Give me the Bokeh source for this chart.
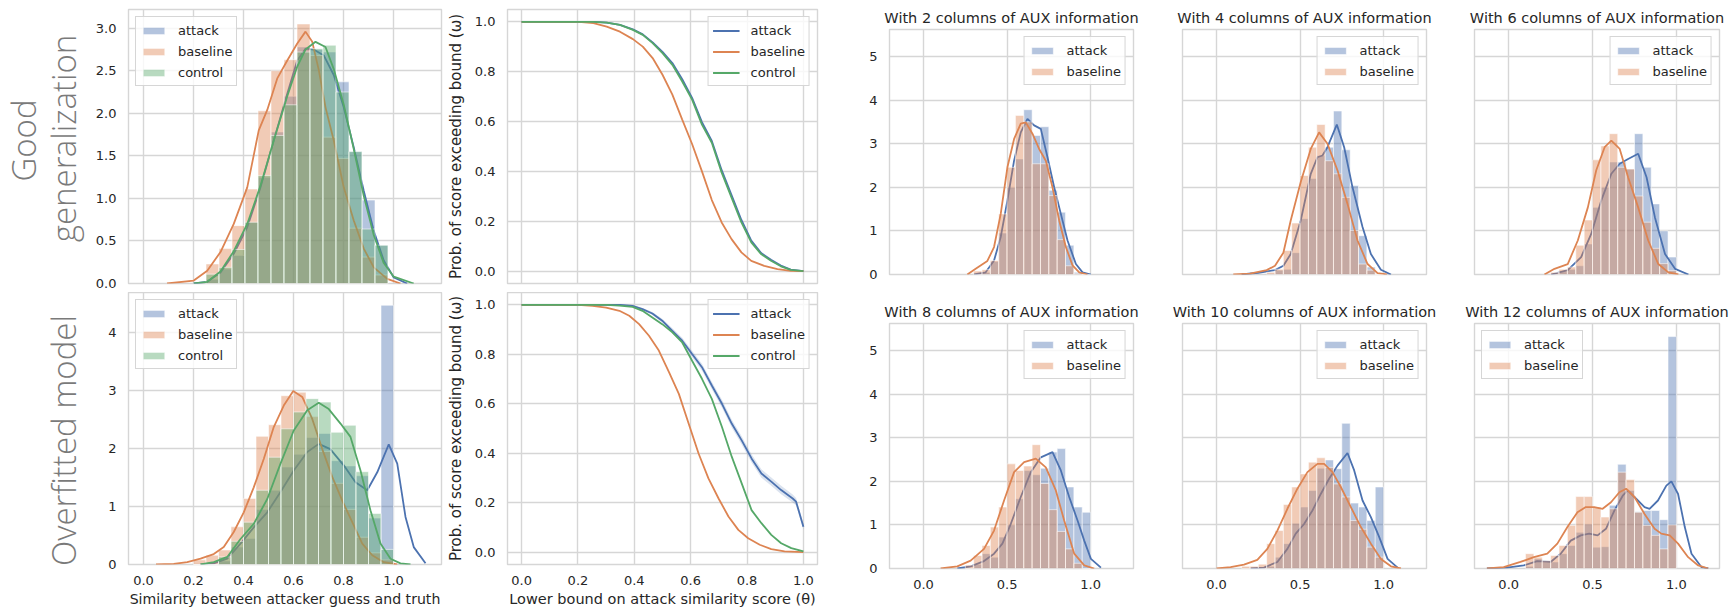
import math
from bokeh.plotting import figure
from bokeh.layouts import row, column
from bokeh.models import FixedTicker, PrintfTickFormatter, Range1d
from bokeh.core.properties import value
from bokeh.embed import file_html
from bokeh.resources import INLINE

# ---------------- data ----------------
SERIES = ["attack", "baseline", "control"]

# Good generalization histogram (left top)
GOOD_EDGES = [0.250, 0.302, 0.354, 0.406, 0.458, 0.510, 0.562, 0.614, 0.666, 0.718, 0.770, 0.822, 0.874, 0.926, 0.978]
GOOD_ATTACK = [0.05, 0.17, 0.33, 0.72, 1.25, 1.78, 2.20, 2.78, 2.75, 2.72, 2.37, 1.55, 0.98, 0.45]
GOOD_BASELINE = [0.23, 0.41, 0.68, 1.11, 2.03, 2.50, 2.63, 3.05, 2.68, 1.72, 1.47, 0.65, 0.31, 0.10]
GOOD_CONTROL = [0.11, 0.19, 0.40, 0.72, 1.27, 1.74, 2.10, 2.72, 2.76, 2.80, 2.25, 1.55, 0.64, 0.45]
GOOD_KX_ATTACK = [0.201, 0.255, 0.308, 0.361, 0.415, 0.468, 0.521, 0.575, 0.615, 0.648, 0.681, 0.721, 0.761, 0.801, 0.841, 0.881, 0.921, 0.961, 1.001, 1.055]
GOOD_KY_ATTACK = [0.0, 0.02, 0.13, 0.35, 0.66, 1.13, 1.68, 2.23, 2.62, 2.76, 2.75, 2.68, 2.45, 2.07, 1.60, 1.09, 0.62, 0.27, 0.07, 0.0]
GOOD_KX_BASELINE = [0.094, 0.201, 0.255, 0.308, 0.361, 0.415, 0.461, 0.495, 0.535, 0.575, 0.615, 0.648, 0.675, 0.701, 0.728, 0.761, 0.801, 0.841, 0.881, 0.921, 0.975, 1.028]
GOOD_KY_BASELINE = [0.0, 0.035, 0.15, 0.37, 0.70, 1.13, 1.80, 2.04, 2.41, 2.62, 2.82, 2.96, 2.84, 2.51, 2.07, 1.68, 1.13, 0.74, 0.41, 0.19, 0.055, 0.0]
GOOD_KX_CONTROL = [0.201, 0.255, 0.308, 0.361, 0.415, 0.468, 0.521, 0.575, 0.615, 0.648, 0.688, 0.728, 0.761, 0.801, 0.841, 0.881, 0.921, 0.961, 1.001, 1.081]
GOOD_KY_CONTROL = [0.0, 0.02, 0.14, 0.38, 0.70, 1.15, 1.68, 2.20, 2.55, 2.75, 2.84, 2.78, 2.52, 2.10, 1.58, 1.03, 0.57, 0.24, 0.08, 0.0]

# Overfitted model histogram (left bottom)
OVER_EDGES = [0.20, 0.25, 0.30, 0.35, 0.40, 0.45, 0.50, 0.55, 0.60, 0.65, 0.70, 0.75, 0.80, 0.85, 0.90, 0.95, 1.00]
OVER_ATTACK = [0.0, 0.0, 0.06, 0.30, 0.45, 0.95, 1.28, 1.68, 1.90, 2.19, 2.26, 1.79, 1.70, 1.53, 0.80, 4.47]
OVER_BASELINE = [0.08, 0.16, 0.25, 0.65, 1.14, 2.21, 2.41, 2.91, 2.97, 2.55, 1.95, 1.40, 0.95, 0.47, 0.20, 0.08]
OVER_CONTROL = [0.0, 0.0, 0.13, 0.40, 0.73, 1.28, 1.85, 2.34, 2.63, 2.86, 2.80, 2.28, 2.40, 1.60, 0.88, 0.26]
OVER_KX_ATTACK = [0.228, 0.281, 0.335, 0.388, 0.441, 0.495, 0.548, 0.601, 0.655, 0.701, 0.747, 0.801, 0.848, 0.895, 0.935, 0.981, 1.015, 1.048, 1.081, 1.128]
OVER_KY_ATTACK = [0.0, 0.02, 0.10, 0.36, 0.64, 0.90, 1.25, 1.62, 1.94, 2.08, 1.99, 1.71, 1.42, 1.28, 1.59, 2.07, 1.74, 0.82, 0.30, 0.02]
OVER_KX_BASELINE = [0.05, 0.121, 0.175, 0.228, 0.281, 0.321, 0.361, 0.401, 0.441, 0.481, 0.521, 0.561, 0.599, 0.635, 0.675, 0.715, 0.755, 0.795, 0.835, 0.875, 0.915, 0.961, 1.015]
OVER_KY_BASELINE = [0.0, 0.01, 0.04, 0.10, 0.18, 0.30, 0.56, 0.90, 1.33, 1.82, 2.37, 2.74, 2.99, 2.89, 2.51, 1.99, 1.51, 1.10, 0.73, 0.36, 0.16, 0.04, 0.0]
OVER_KX_CONTROL = [0.228, 0.281, 0.335, 0.388, 0.441, 0.495, 0.548, 0.601, 0.655, 0.701, 0.741, 0.788, 0.828, 0.868, 0.908, 0.948, 0.988, 1.028, 1.068]
OVER_KY_CONTROL = [0.0, 0.04, 0.13, 0.44, 0.70, 1.13, 1.74, 2.31, 2.66, 2.79, 2.68, 2.43, 2.20, 1.62, 0.93, 0.36, 0.10, 0.02, 0.0]

# Exceedance curves (middle column)
ECDF_GOOD_X_BASELINE = [0.0, 0.203, 0.255, 0.302, 0.349, 0.395, 0.430, 0.465, 0.500, 0.535, 0.570, 0.605, 0.640, 0.675, 0.710, 0.745, 0.780, 0.815, 0.861, 0.908, 0.955, 1.0]
ECDF_GOOD_Y_BASELINE = [1.0, 1.0, 0.995, 0.981, 0.961, 0.931, 0.901, 0.855, 0.788, 0.708, 0.608, 0.510, 0.400, 0.285, 0.195, 0.128, 0.075, 0.041, 0.021, 0.008, 0.001, 0.0]
ECDF_GOOD_X = [0.0, 0.255, 0.302, 0.349, 0.395, 0.430, 0.465, 0.500, 0.535, 0.570, 0.605, 0.640, 0.675, 0.710, 0.745, 0.780, 0.815, 0.850, 0.885, 0.920, 0.955, 1.0]
ECDF_GOOD_Y_ATTACK = [1.0, 1.0, 0.997, 0.988, 0.970, 0.950, 0.918, 0.880, 0.835, 0.770, 0.695, 0.598, 0.522, 0.405, 0.305, 0.205, 0.122, 0.072, 0.045, 0.022, 0.006, 0.0]
ECDF_GOOD_Y_CONTROL = [1.0, 1.0, 0.997, 0.988, 0.968, 0.948, 0.915, 0.875, 0.828, 0.761, 0.688, 0.588, 0.515, 0.395, 0.295, 0.195, 0.115, 0.068, 0.041, 0.019, 0.005, 0.0]

ECDF_OVER_X_BASELINE = [0.0, 0.2, 0.252, 0.300, 0.347, 0.382, 0.417, 0.452, 0.487, 0.523, 0.558, 0.593, 0.628, 0.663, 0.699, 0.734, 0.769, 0.804, 0.845, 0.886, 0.933, 1.0]
ECDF_OVER_Y_BASELINE = [1.0, 1.0, 0.996, 0.989, 0.976, 0.956, 0.922, 0.875, 0.815, 0.728, 0.640, 0.519, 0.399, 0.298, 0.217, 0.144, 0.090, 0.056, 0.030, 0.012, 0.003, 0.0]
ECDF_OVER_X_CONTROL = [0.0, 0.300, 0.347, 0.394, 0.429, 0.464, 0.499, 0.535, 0.570, 0.605, 0.640, 0.675, 0.711, 0.746, 0.781, 0.816, 0.851, 0.886, 0.921, 0.957, 1.0]
ECDF_OVER_Y_CONTROL = [1.0, 1.0, 0.997, 0.992, 0.976, 0.949, 0.922, 0.889, 0.848, 0.774, 0.701, 0.620, 0.506, 0.385, 0.278, 0.170, 0.117, 0.070, 0.036, 0.016, 0.003]
ECDF_OVER_X_ATTACK = [0.0, 0.350, 0.394, 0.429, 0.464, 0.499, 0.535, 0.570, 0.605, 0.640, 0.675, 0.711, 0.746, 0.781, 0.816, 0.851, 0.886, 0.921, 0.962, 0.974, 1.0]
ECDF_OVER_Y_ATTACK = [1.0, 1.0, 0.996, 0.983, 0.965, 0.936, 0.895, 0.855, 0.801, 0.748, 0.674, 0.600, 0.519, 0.452, 0.379, 0.318, 0.285, 0.251, 0.217, 0.204, 0.103]
ECDF_OVER_BAND_ATTACK = [0.0, 0.0, 0.002, 0.004, 0.006, 0.008, 0.010, 0.012, 0.013, 0.014, 0.015, 0.016, 0.016, 0.017, 0.017, 0.017, 0.017, 0.017, 0.016, 0.015, 0.012]

# AUX small multiples
AUX_COLUMNS = [2, 4, 6, 8, 10, 12]

AUX2_EDGES = [0.30, 0.35, 0.40, 0.45, 0.50, 0.55, 0.60, 0.65, 0.70, 0.75, 0.80, 0.85, 0.90, 0.95, 1.00]
AUX2_ATTACK = [0.0, 0.05, 0.30, 0.95, 2.00, 2.65, 3.78, 3.19, 3.39, 1.93, 1.43, 0.67, 0.05, 0.0]
AUX2_BASELINE = [0.08, 0.11, 0.32, 1.39, 2.46, 3.65, 3.50, 2.54, 2.54, 1.81, 0.80, 0.20, 0.02, 0.0]
AUX2_KX_ATTACK = [0.302, 0.372, 0.422, 0.462, 0.502, 0.542, 0.582, 0.622, 0.662, 0.702, 0.742, 0.782, 0.822, 0.862, 0.912, 0.952, 1.002]
AUX2_KY_ATTACK = [0.0, 0.05, 0.32, 0.86, 1.70, 2.61, 3.26, 3.57, 3.42, 3.34, 2.69, 2.00, 1.39, 0.78, 0.24, 0.05, 0.0]
AUX2_KX_BASELINE = [0.262, 0.312, 0.382, 0.422, 0.462, 0.502, 0.542, 0.582, 0.612, 0.652, 0.692, 0.732, 0.772, 0.812, 0.852, 0.892, 0.932, 0.982]
AUX2_KY_BASELINE = [0.0, 0.13, 0.31, 0.63, 1.39, 2.46, 3.11, 3.46, 3.49, 3.23, 2.88, 2.61, 2.00, 1.24, 0.63, 0.21, 0.05, 0.0]

AUX4_EDGES = [0.30, 0.35, 0.40, 0.45, 0.50, 0.55, 0.60, 0.65, 0.70, 0.75, 0.80, 0.85, 0.90, 0.95, 1.00]
AUX4_ATTACK = [0.02, 0.10, 0.12, 0.50, 1.28, 2.20, 2.73, 2.92, 3.75, 2.86, 2.04, 0.89, 0.17, 0.0]
AUX4_BASELINE = [0.05, 0.12, 0.55, 1.18, 2.27, 2.92, 3.44, 2.61, 2.31, 1.77, 1.01, 0.24, 0.10, 0.0]
AUX4_KX_ATTACK = [0.15, 0.25, 0.35, 0.40, 0.444, 0.504, 0.564, 0.604, 0.634, 0.664, 0.72, 0.764, 0.814, 0.874, 0.924, 0.984, 1.044]
AUX4_KY_ATTACK = [0.0, 0.04, 0.10, 0.20, 0.47, 1.24, 2.31, 2.69, 2.73, 2.92, 3.44, 2.92, 2.00, 1.09, 0.47, 0.11, 0.0]
AUX4_KX_BASELINE = [0.10, 0.20, 0.30, 0.35, 0.40, 0.444, 0.504, 0.564, 0.614, 0.664, 0.724, 0.784, 0.844, 0.904, 0.964, 1.02]
AUX4_KY_BASELINE = [0.0, 0.02, 0.10, 0.20, 0.50, 1.24, 2.12, 2.88, 3.26, 3.00, 2.39, 1.62, 0.78, 0.24, 0.03, 0.0]

AUX6_EDGES = [0.25, 0.30, 0.35, 0.40, 0.45, 0.50, 0.55, 0.60, 0.65, 0.70, 0.75, 0.80, 0.85, 0.90, 0.95, 1.00]
AUX6_ATTACK = [0.02, 0.08, 0.12, 0.20, 0.70, 1.54, 2.00, 2.58, 2.58, 2.42, 3.23, 2.46, 1.62, 1.00, 0.40]
AUX6_BASELINE = [0.05, 0.12, 0.17, 0.67, 1.25, 2.63, 2.95, 3.23, 2.46, 2.42, 1.80, 1.20, 0.60, 0.25, 0.09]
AUX6_KX_ATTACK = [0.253, 0.352, 0.432, 0.492, 0.552, 0.612, 0.662, 0.712, 0.772, 0.822, 0.872, 0.932, 0.992, 1.072]
AUX6_KY_ATTACK = [0.0, 0.10, 0.40, 0.93, 1.70, 2.31, 2.54, 2.65, 2.77, 2.23, 1.31, 0.47, 0.13, 0.0]
AUX6_KX_BASELINE = [0.213, 0.273, 0.352, 0.412, 0.472, 0.522, 0.572, 0.612, 0.662, 0.712, 0.772, 0.832, 0.892, 0.952, 1.012]
AUX6_KY_BASELINE = [0.0, 0.13, 0.24, 0.78, 1.54, 2.39, 2.92, 3.07, 2.88, 2.23, 1.54, 0.78, 0.24, 0.05, 0.0]

AUX8_EDGES = [0.25, 0.30, 0.35, 0.40, 0.45, 0.50, 0.55, 0.60, 0.65, 0.70, 0.75, 0.80, 0.85, 0.90, 0.95, 1.00]
AUX8_ATTACK = [0.0, 0.10, 0.34, 0.26, 0.72, 1.00, 1.60, 2.25, 2.15, 2.30, 2.67, 2.75, 1.87, 1.41, 1.29]
AUX8_BASELINE = [0.08, 0.30, 0.53, 0.95, 1.41, 2.40, 2.25, 2.35, 2.84, 1.95, 1.35, 0.85, 0.45, 0.12, 0.0]
AUX8_KX_ATTACK = [0.202, 0.282, 0.362, 0.422, 0.472, 0.522, 0.582, 0.642, 0.702, 0.772, 0.822, 0.872, 0.922, 0.962, 1.002, 1.062]
AUX8_KY_ATTACK = [0.0, 0.05, 0.17, 0.34, 0.57, 1.02, 1.64, 2.21, 2.55, 2.67, 2.25, 1.64, 1.10, 0.64, 0.22, 0.02]
AUX8_KX_BASELINE = [0.102, 0.202, 0.282, 0.362, 0.422, 0.482, 0.542, 0.602, 0.672, 0.732, 0.792, 0.842, 0.902, 0.962, 1.022]
AUX8_KY_BASELINE = [0.0, 0.05, 0.18, 0.45, 0.87, 1.56, 2.21, 2.44, 2.52, 2.32, 1.79, 1.10, 0.34, 0.07, 0.0]

AUX10_EDGES = [0.15, 0.20, 0.25, 0.30, 0.35, 0.40, 0.45, 0.50, 0.55, 0.60, 0.65, 0.70, 0.75, 0.80, 0.85, 0.90, 0.95, 1.00]
AUX10_ATTACK = [0.0, 0.0, 0.0, 0.05, 0.26, 0.57, 1.04, 1.41, 1.79, 2.30, 2.49, 2.29, 3.33, 1.50, 1.41, 1.10, 1.87]
AUX10_BASELINE = [0.05, 0.05, 0.10, 0.57, 0.87, 1.47, 1.87, 2.17, 2.44, 2.54, 2.32, 1.94, 1.64, 1.10, 0.90, 0.49, 0.26]
AUX10_KX_ATTACK = [0.204, 0.284, 0.364, 0.424, 0.474, 0.524, 0.574, 0.624, 0.674, 0.724, 0.784, 0.824, 0.874, 0.924, 0.974, 1.024, 1.084]
AUX10_KY_ATTACK = [0.0, 0.02, 0.15, 0.45, 0.80, 1.02, 1.33, 1.71, 2.06, 2.36, 2.65, 2.25, 1.56, 1.18, 0.72, 0.22, 0.02]
AUX10_KX_BASELINE = [0.0, 0.084, 0.164, 0.244, 0.304, 0.364, 0.424, 0.484, 0.544, 0.604, 0.644, 0.694, 0.744, 0.804, 0.864, 0.924, 0.984, 1.044, 1.104]
AUX10_KY_BASELINE = [0.0, 0.03, 0.09, 0.20, 0.45, 0.87, 1.37, 1.83, 2.21, 2.40, 2.40, 2.21, 1.87, 1.41, 0.95, 0.57, 0.22, 0.05, 0.0]

AUX12_EDGES = [0.10, 0.15, 0.20, 0.25, 0.30, 0.35, 0.40, 0.45, 0.50, 0.55, 0.60, 0.65, 0.70, 0.75, 0.80, 0.85, 0.90, 0.95, 1.00]
AUX12_ATTACK = [0.05, 0.22, 0.15, 0.15, 0.34, 0.53, 0.83, 1.02, 0.49, 0.50, 1.45, 2.39, 1.79, 1.30, 1.33, 1.33, 1.12, 5.32]
AUX12_BASELINE = [0.34, 0.26, 0.18, 0.30, 0.53, 0.99, 1.65, 1.65, 1.41, 1.18, 1.37, 2.21, 2.04, 1.29, 0.99, 0.76, 0.45, 1.00]
AUX12_KX_ATTACK = [-0.13, -0.01, 0.09, 0.17, 0.25, 0.31, 0.37, 0.43, 0.48, 0.53, 0.58, 0.63, 0.68, 0.71, 0.76, 0.81, 0.84, 0.89, 0.94, 0.97, 1.01, 1.05, 1.09, 1.15, 1.19]
AUX12_KY_ATTACK = [0.0, 0.02, 0.07, 0.17, 0.15, 0.34, 0.64, 0.76, 0.80, 0.76, 0.91, 1.33, 1.67, 1.79, 1.60, 1.41, 1.37, 1.56, 1.90, 2.00, 1.71, 0.95, 0.34, 0.03, 0.0]
AUX12_KX_BASELINE = [-0.13, -0.03, 0.07, 0.15, 0.23, 0.29, 0.35, 0.41, 0.46, 0.51, 0.56, 0.61, 0.66, 0.70, 0.75, 0.81, 0.87, 0.91, 0.96, 1.01, 1.07, 1.13, 1.19]
AUX12_KY_BASELINE = [0.0, 0.03, 0.15, 0.26, 0.34, 0.57, 0.95, 1.29, 1.41, 1.41, 1.37, 1.52, 1.75, 1.83, 1.64, 1.25, 0.91, 0.80, 0.76, 0.57, 0.26, 0.07, 0.0]

# ticks / labels
HIST_X_TICKS = [0.0, 0.2, 0.4, 0.6, 0.8, 1.0]
GOOD_Y_TICKS = [0.0, 0.5, 1.0, 1.5, 2.0, 2.5, 3.0]
OVER_Y_TICKS = [0, 1, 2, 3, 4]
ECDF_X_TICKS = [0.0, 0.2, 0.4, 0.6, 0.8, 1.0]
ECDF_Y_TICKS = [0.0, 0.2, 0.4, 0.6, 0.8, 1.0]
AUX_X_TICKS = [0.0, 0.5, 1.0]
AUX_Y_TICKS = [0, 1, 2, 3, 4, 5]

ROW_LABEL_LINES = [["Good", "generalization"], ["Overfitted model"]]
HIST_XLABEL = "Similarity between attacker guess and truth"
ECDF_XLABEL = "Lower bound on attack similarity score (\u03b8)"
ECDF_YLABEL = "Prob. of score exceeding bound (\u03c9)"

# ---------------- style ----------------
COLORS = {"attack": "#4C72B0", "baseline": "#DD8452", "control": "#55A868"}
GRID = "#d6d6d6"
TEXT = "#262626"
FONT = "DejaVu Sans"
FS = "13px"
FS_LABEL = "14.5px"
ROW_FONT = "Open Sans Light, Lato Light, Roboto Light, Open Sans, DejaVu Sans"


def make_fig(w, h, bl, br, bt, bb, xr, yr, xticks, yticks, xfmt, yfmt, showx, showy):
    p = figure(width=w, height=h, x_range=Range1d(*xr), y_range=Range1d(*yr),
               output_backend="svg", toolbar_location=None,
               min_border_left=bl, min_border_right=br, min_border_top=bt, min_border_bottom=bb)
    p.outline_line_color = GRID
    p.outline_line_width = 1.4
    p.background_fill_color = "white"
    p.border_fill_color = "white"
    xt = FixedTicker(ticks=xticks)
    yt = FixedTicker(ticks=yticks)
    p.xaxis.ticker = xt
    p.yaxis.ticker = yt
    p.xgrid.ticker = xt
    p.ygrid.ticker = yt
    p.xaxis.formatter = PrintfTickFormatter(format=xfmt)
    p.yaxis.formatter = PrintfTickFormatter(format=yfmt)
    for ax in p.xaxis + p.yaxis:
        ax.axis_line_color = None
        ax.major_tick_line_color = None
        ax.minor_tick_line_color = None
        ax.major_tick_out = 0
        ax.major_tick_in = 0
        ax.minor_tick_out = 0
        ax.minor_tick_in = 0
        ax.major_label_text_font = FONT
        ax.major_label_text_font_size = FS
        ax.major_label_text_color = TEXT
        ax.major_label_standoff = 12
        ax.axis_label_text_font = FONT
        ax.axis_label_text_font_size = FS_LABEL
        ax.axis_label_text_font_style = "normal"
        ax.axis_label_text_color = TEXT
    p.xaxis.major_label_standoff = 11
    p.xaxis.visible = showx
    p.yaxis.visible = showy
    p.grid.grid_line_color = GRID
    p.grid.grid_line_width = 1.4
    return p


def hist(p, edges, heights, name):
    p.quad(left=edges[:-1], right=edges[1:], top=heights, bottom=0,
           fill_color=COLORS[name], fill_alpha=0.42, line_color="white", line_width=1,
           line_alpha=0.55, legend_label=name)


def kde(p, xs, ys, name):
    p.line(xs, ys, line_color=COLORS[name], line_width=1.8)


def style_legend(p, loc, margin):
    lg = p.legend[0]
    lg.location = loc
    lg.margin = margin
    lg.padding = 4
    lg.spacing = 3
    lg.label_height = 18
    lg.glyph_height = 9
    lg.glyph_width = 27
    lg.label_standoff = 11
    lg.label_text_font = FONT
    lg.label_text_font_size = FS
    lg.label_text_color = TEXT
    lg.border_line_color = "#cccccc"
    lg.border_line_alpha = 0.8
    lg.background_fill_alpha = 0.8


# ---------------- geometry (page pixels) ----------------
LW = 88
# (figure height, top border, bottom border) for the two rows of the left/middle columns
ROW_H = [(292, 9, 9), (320, 0, 48)]


def label_fig(h, lines, xs, ys):
    p = figure(width=LW, height=h, x_range=Range1d(0, LW), y_range=Range1d(0, h),
               output_backend="svg", toolbar_location=None,
               min_border_left=0, min_border_right=0, min_border_top=0, min_border_bottom=0)
    p.axis.visible = False
    p.grid.visible = False
    p.outline_line_color = None
    p.background_fill_color = "white"
    p.border_fill_color = "white"
    p.text(x=xs, y=ys, text=lines, angle=math.pi / 2, text_align="center",
           text_baseline="middle", text_font=value(ROW_FONT), text_font_size="33px",
           text_color="#7a7a7a")
    return p


lab_top = label_fig(ROW_H[0][0], ROW_LABEL_LINES[0], [23, 63], [292 - 140, 292 - 138])
lab_bot = label_fig(ROW_H[1][0], ROW_LABEL_LINES[1], [63], [612 - 440])

# ---------------- left column ----------------
HX = (-0.06, 1.192)
a_top = make_fig(443 - LW, ROW_H[0][0], 127 - LW, 2, ROW_H[0][1], ROW_H[0][2], HX, (0, 3.22),
                 HIST_X_TICKS, GOOD_Y_TICKS, "%.1f", "%.1f", False, True)
for nm, h, kx, ky in [("attack", GOOD_ATTACK, GOOD_KX_ATTACK, GOOD_KY_ATTACK),
                      ("baseline", GOOD_BASELINE, GOOD_KX_BASELINE, GOOD_KY_BASELINE),
                      ("control", GOOD_CONTROL, GOOD_KX_CONTROL, GOOD_KY_CONTROL)]:
    hist(a_top, GOOD_EDGES, h, nm)
    kde(a_top, kx, ky, nm)
style_legend(a_top, "top_left", 7)

a_bot = make_fig(443 - LW, ROW_H[1][0], 128 - LW, 1, ROW_H[1][1], ROW_H[1][2], HX, (0, 4.69),
                 HIST_X_TICKS, OVER_Y_TICKS, "%.1f", "%d", True, True)
for nm, h, kx, ky in [("attack", OVER_ATTACK, OVER_KX_ATTACK, OVER_KY_ATTACK),
                      ("baseline", OVER_BASELINE, OVER_KX_BASELINE, OVER_KY_BASELINE),
                      ("control", OVER_CONTROL, OVER_KX_CONTROL, OVER_KY_CONTROL)]:
    hist(a_bot, OVER_EDGES, h, nm)
    kde(a_bot, kx, ky, nm)
style_legend(a_bot, "top_left", 7)
a_bot.xaxis.axis_label = HIST_XLABEL
a_bot.xaxis.axis_label_text_font_size = "14.1px"
a_bot.xaxis.axis_label_standoff = 3

# ---------------- middle column ----------------
EX = (-0.05, 1.05)
EY = (-0.05, 1.05)
b_top = make_fig(402, ROW_H[0][0], 60, 28, ROW_H[0][1], ROW_H[0][2], EX, EY,
                 ECDF_X_TICKS, ECDF_Y_TICKS, "%.1f", "%.1f", False, True)
b_top.line(ECDF_GOOD_X, ECDF_GOOD_Y_ATTACK, line_color=COLORS["attack"], line_width=1.8, legend_label="attack")
b_top.line(ECDF_GOOD_X_BASELINE, ECDF_GOOD_Y_BASELINE, line_color=COLORS["baseline"], line_width=1.8, legend_label="baseline")
b_top.line(ECDF_GOOD_X, ECDF_GOOD_Y_CONTROL, line_color=COLORS["control"], line_width=1.8, legend_label="control")
style_legend(b_top, "top_right", 7)

b_bot = make_fig(402, ROW_H[1][0], 61, 27, ROW_H[1][1], ROW_H[1][2], EX, EY,
                 ECDF_X_TICKS, ECDF_Y_TICKS, "%.1f", "%.1f", True, True)
lo = [y - d for y, d in zip(ECDF_OVER_Y_ATTACK, ECDF_OVER_BAND_ATTACK)]
hi = [y + d for y, d in zip(ECDF_OVER_Y_ATTACK, ECDF_OVER_BAND_ATTACK)]
b_bot.varea(x=ECDF_OVER_X_ATTACK, y1=lo, y2=hi, fill_color=COLORS["attack"], fill_alpha=0.2)
b_bot.line(ECDF_OVER_X_ATTACK, ECDF_OVER_Y_ATTACK, line_color=COLORS["attack"], line_width=1.8, legend_label="attack")
b_bot.line(ECDF_OVER_X_BASELINE, ECDF_OVER_Y_BASELINE, line_color=COLORS["baseline"], line_width=1.8, legend_label="baseline")
b_bot.line(ECDF_OVER_X_CONTROL, ECDF_OVER_Y_CONTROL, line_color=COLORS["control"], line_width=1.8, legend_label="control")
style_legend(b_bot, "top_right", 7)
b_bot.xaxis.axis_label = ECDF_XLABEL
b_bot.xaxis.axis_label_standoff = 3
for p in (b_top, b_bot):
    p.yaxis.axis_label = ECDF_YLABEL
    p.yaxis.axis_label_text_font_size = "15px"
    p.yaxis.axis_label_standoff = 7

# ---------------- AUX small multiples ----------------
AX = (-0.204, 1.257)
AY = (0, 5.62)
AUX_DATA = [
    (AUX2_EDGES, AUX2_ATTACK, AUX2_BASELINE, AUX2_KX_ATTACK, AUX2_KY_ATTACK, AUX2_KX_BASELINE, AUX2_KY_BASELINE),
    (AUX4_EDGES, AUX4_ATTACK, AUX4_BASELINE, AUX4_KX_ATTACK, AUX4_KY_ATTACK, AUX4_KX_BASELINE, AUX4_KY_BASELINE),
    (AUX6_EDGES, AUX6_ATTACK, AUX6_BASELINE, AUX6_KX_ATTACK, AUX6_KY_ATTACK, AUX6_KX_BASELINE, AUX6_KY_BASELINE),
    (AUX8_EDGES, AUX8_ATTACK, AUX8_BASELINE, AUX8_KX_ATTACK, AUX8_KY_ATTACK, AUX8_KX_BASELINE, AUX8_KY_BASELINE),
    (AUX10_EDGES, AUX10_ATTACK, AUX10_BASELINE, AUX10_KX_ATTACK, AUX10_KY_ATTACK, AUX10_KX_BASELINE, AUX10_KY_BASELINE),
    (AUX12_EDGES, AUX12_ATTACK, AUX12_BASELINE, AUX12_KX_ATTACK, AUX12_KY_ATTACK, AUX12_KX_BASELINE, AUX12_KY_BASELINE),
]
COL_GEOM = [(312, 44, 24), (293, 25, 24), (283, 24, 14)]
ROW_GEOM = [(298, 29, 24, 8), (314, 25, 44, 7)]

aux_cols = []
for c in range(3):
    w, bl, br = COL_GEOM[c]
    figs = []
    for r in range(2):
        h, bt, bb, so = ROW_GEOM[r]
        i = r * 3 + c
        edges, at, bs, kxa, kya, kxb, kyb = AUX_DATA[i]
        p = make_fig(w, h, bl, br, bt, bb, AX, AY, AUX_X_TICKS, AUX_Y_TICKS, "%.1f", "%d",
                     r == 1, c == 0)
        hist(p, edges, at, "attack")
        kde(p, kxa, kya, "attack")
        hist(p, edges, bs, "baseline")
        kde(p, kxb, kyb, "baseline")
        style_legend(p, "top_left" if i == 5 else "top_right", 7)
        p.title.text = "With %d columns of AUX information" % AUX_COLUMNS[i]
        p.title.align = "center"
        p.title.text_font = FONT
        p.title.text_font_size = FS_LABEL
        p.title.text_font_style = "normal"
        p.title.text_color = TEXT
        p.title.standoff = so
        figs.append(p)
    aux_cols.append(column(*figs))

layout = row(column(lab_top, lab_bot), column(a_top, a_bot), column(b_top, b_bot), *aux_cols)

open("out.html", "w").write(file_html(layout, INLINE))
